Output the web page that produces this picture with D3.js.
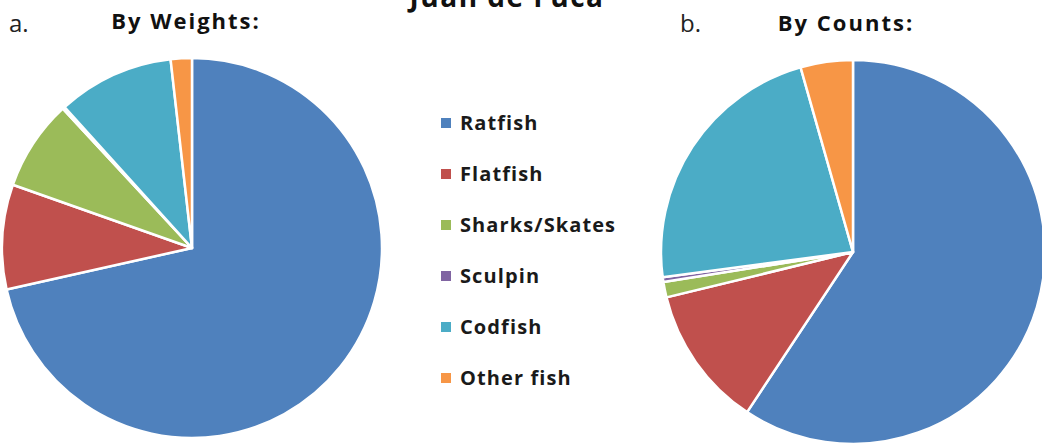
<!DOCTYPE html>
<html><head><meta charset="utf-8">
<script src="https://cdn.jsdelivr.net/npm/d3@7"></script>
<style>html,body{margin:0;padding:0;background:#fff;overflow:hidden}</style>
</head><body>
<svg id="c" width="1042" height="444"></svg>
<script>
const categories = ["Ratfish","Flatfish","Sharks/Skates","Sculpin","Codfish","Other fish"];
const colors = ["#4F81BD","#C0504D","#9BBB59","#8064A2","#4BACC6","#F79646"];
const weights = [71.5, 8.9, 7.7, 0.2, 9.9, 1.8];
const counts = [59.3, 11.9, 1.3, 0.4, 22.7, 4.4];
const chartTitle = "Juan de Fuca";
const panelLabels = ["a.","b."];
const panelTitles = ["By Weights:","By Counts:"];

const svg = d3.select("#c");
const font = "'Open Sans', Lato, sans-serif";
const color = d3.scaleOrdinal().domain(categories).range(colors);
const pie = d3.pie().sort(null).value(d => d.v);

function drawPie(vals, cx, cy, r){
  const data = pie(categories.map((c,i)=>({c, v: vals[i]})));
  const arc = d3.arc().innerRadius(0).outerRadius(r);
  svg.append("g").attr("transform",`translate(${cx},${cy})`)
    .selectAll("path").data(data).join("path")
    .attr("d", arc).attr("fill", d => color(d.data.c))
    .attr("stroke","#fff").attr("stroke-width",2.5).attr("stroke-linejoin","round");
}
drawPie(weights, 192, 248, 190);
drawPie(counts, 853, 252, 192);

svg.append("text").attr("x",507).attr("y",7).attr("text-anchor","middle")
  .attr("font-family",font).attr("font-weight","bold").attr("font-size",28).attr("letter-spacing",1.5).attr("fill","#111").text(chartTitle);

svg.append("text").attr("x",9).attr("y",32).attr("font-family",font).attr("font-size",24).attr("fill","#222").text(panelLabels[0]);
svg.append("text").attr("x",680).attr("y",32).attr("font-family",font).attr("font-size",24).attr("fill","#222").text(panelLabels[1]);
svg.append("text").attr("x",186).attr("y",29).attr("text-anchor","middle").attr("font-family",font).attr("font-weight","bold").attr("font-size",22).attr("letter-spacing",2).attr("fill","#111").text(panelTitles[0]);
svg.append("text").attr("x",846).attr("y",31).attr("text-anchor","middle").attr("font-family",font).attr("font-weight","bold").attr("font-size",22).attr("letter-spacing",2).attr("fill","#111").text(panelTitles[1]);

const ly = d3.scalePoint().domain(categories).range([123, 378]);
const lg = svg.append("g").selectAll("g").data(categories).join("g")
  .attr("transform", d => `translate(441,${ly(d)})`);
lg.append("rect").attr("x",0).attr("y",-5).attr("width",10).attr("height",10).attr("fill", d=>color(d));
lg.append("text").attr("x",19).attr("y",7).attr("font-family",font).attr("font-weight","bold")
  .attr("font-size",20).attr("letter-spacing",1.1).attr("fill","#1a1a1a").text(d=>d);
</script>
</body></html>
